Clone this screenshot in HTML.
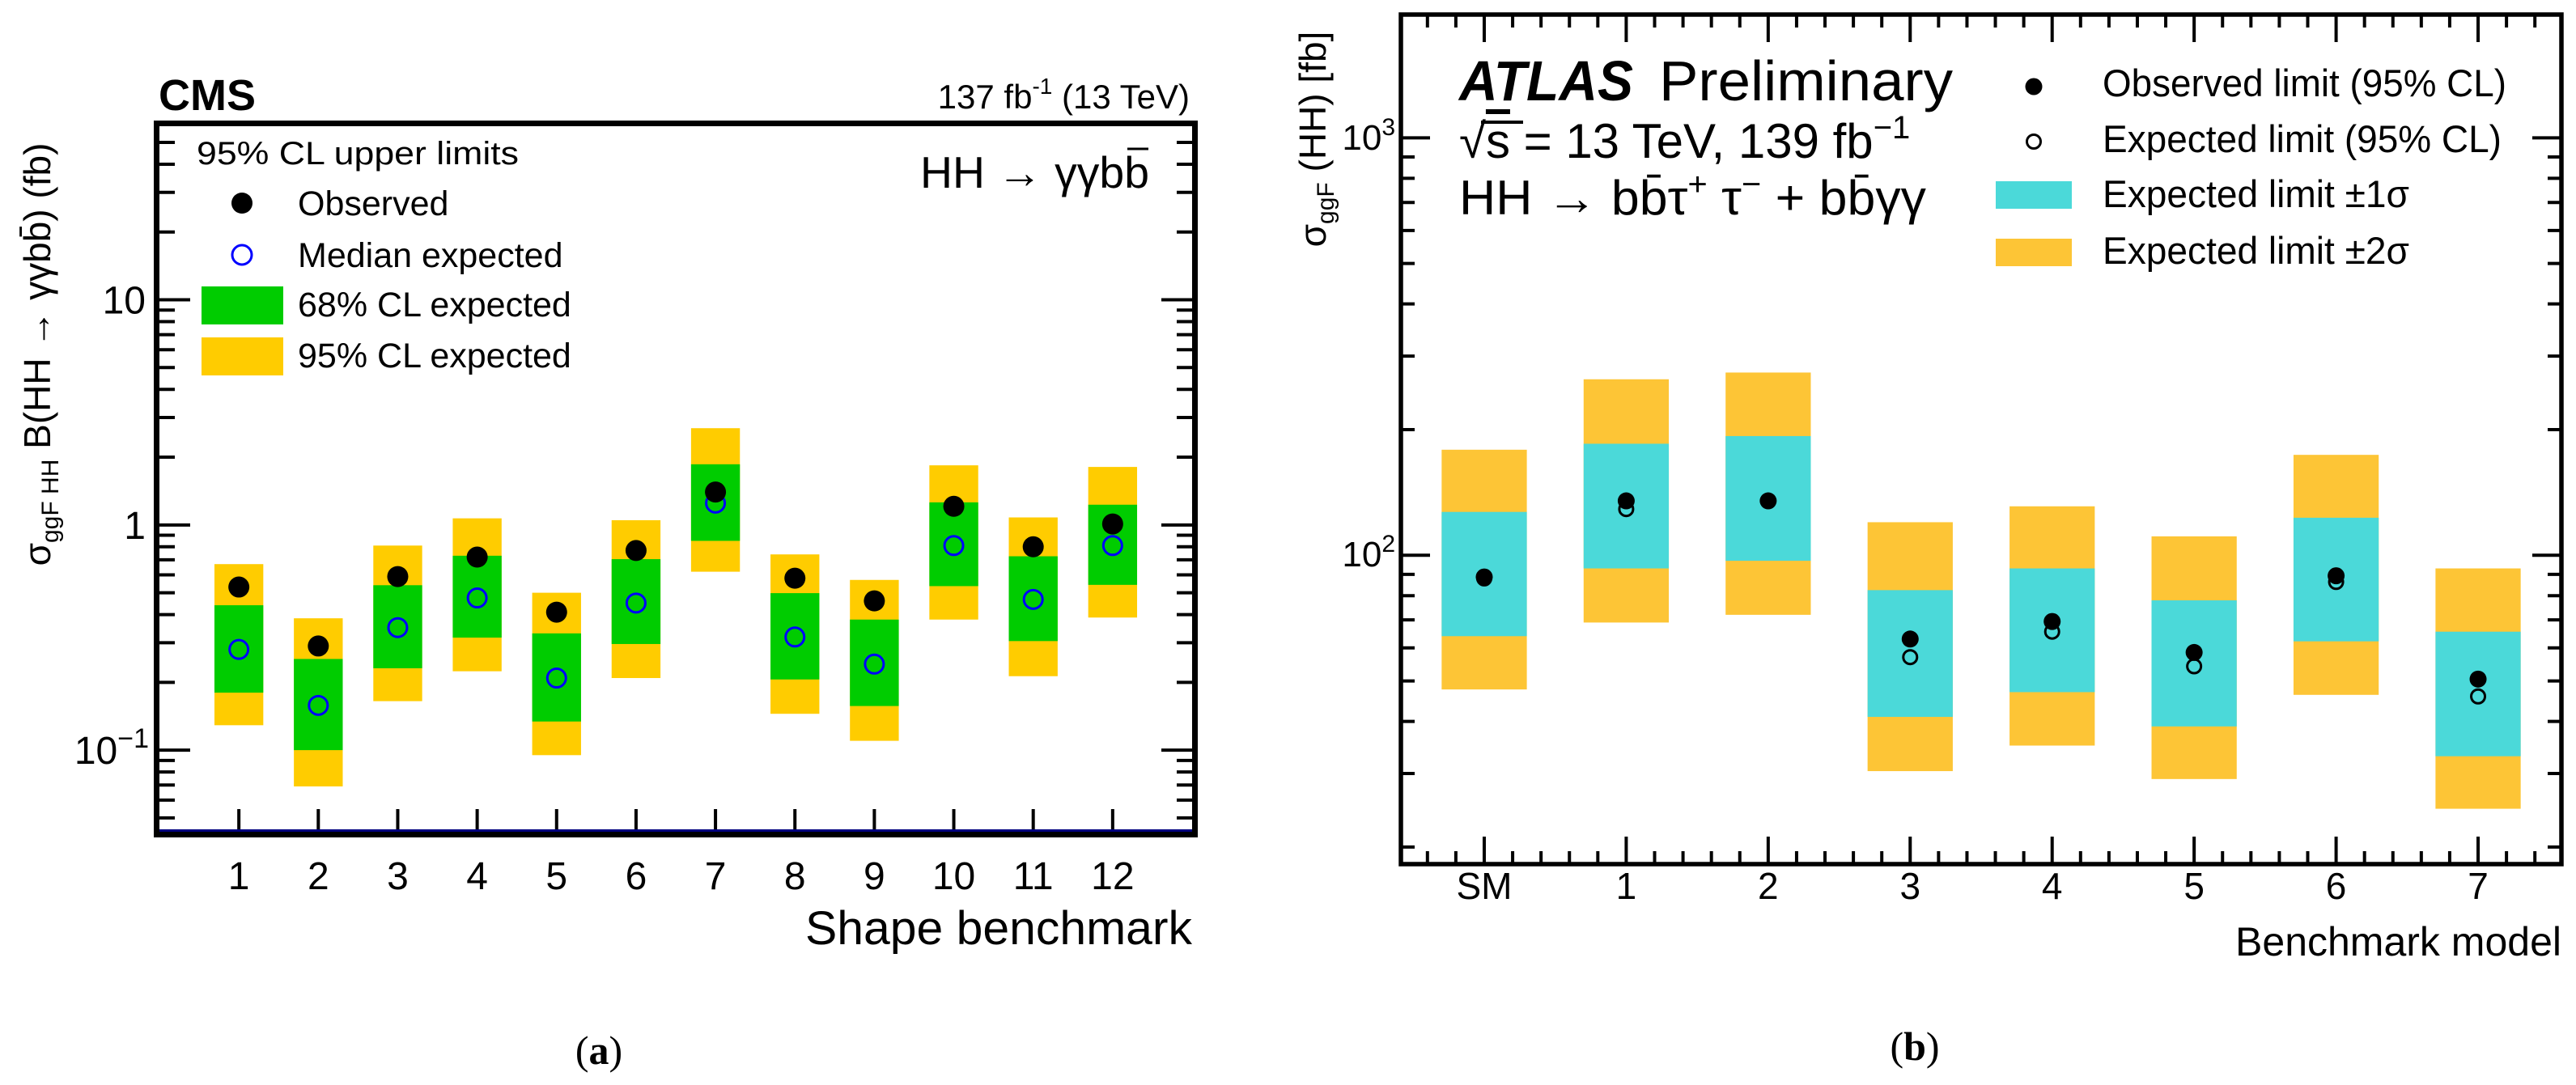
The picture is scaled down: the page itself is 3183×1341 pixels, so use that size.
<!DOCTYPE html>
<html><head><meta charset="utf-8"><title>HH limits</title>
<style>
html,body{margin:0;padding:0;background:#fff;}
svg{display:block;font-family:"Liberation Sans",sans-serif;}
</style></head>
<body>
<svg id="fig" width="3183" height="1341" viewBox="0 0 3183 1341" xmlns="http://www.w3.org/2000/svg">
<rect width="3183" height="1341" fill="#fff"/>
<g id="cms"></g>
<g id="atlas"></g>
</svg>
<script>
// ---------- CMS panel data ----------
const cmsCategories = ["1","2","3","4","5","6","7","8","9","10","11","12"];
const cmsObserved = [0.53,0.29,0.59,0.72,0.41,0.77,1.40,0.58,0.46,1.21,0.80,1.01];
const cmsExpected = [0.28,0.158,0.35,0.474,0.209,0.45,1.25,0.318,0.241,0.81,0.467,0.81];
const cms1sLow  = [0.18,0.10,0.231,0.316,0.134,0.296,0.85,0.206,0.157,0.535,0.305,0.542];
const cms1sHigh = [0.44,0.254,0.54,0.73,0.33,0.705,1.86,0.498,0.38,1.26,0.726,1.23];
const cms2sLow  = [0.129,0.069,0.165,0.224,0.095,0.209,0.62,0.145,0.110,0.38,0.213,0.388];
const cms2sHigh = [0.67,0.385,0.81,1.07,0.50,1.05,2.69,0.74,0.57,1.84,1.08,1.81];
const cmsYTicks = [0.1,1,10];

// ---------- ATLAS panel data ----------
const atlasCategories = ["SM","1","2","3","4","5","6","7"];
const atlasObserved = [88.7,135,135,63,69.4,58.5,89.3,50.5];
const atlasExpected = [88,129,135,57,65.6,54.2,86.3,45.9];
const atlas1sLow  = [64,93,97,41,47,38.9,62.2,33];
const atlas1sHigh = [127,185,193,82.5,93,78,123,65.6];
const atlas2sLow  = [47.7,69,72,30.4,35,29.1,46.3,24.7];
const atlas2sHigh = [179,264,274,120,131,111,174,93];
const atlasYTicks = [100,1000];

const NS = "http://www.w3.org/2000/svg";
function mk(parent, tag, attrs, text){
  const e = document.createElementNS(NS, tag);
  for (const k in attrs) e.setAttribute(k, attrs[k]);
  if (text !== undefined) e.textContent = text;
  parent.appendChild(e);
  return e;
}

// ================= CMS =================
(function(){
  const g = document.getElementById('cms');
  const L=197, R=1473, T=156, B=1028;
  const yMin=Math.log10(0.0434), yMax=Math.log10(59);
  const xs = v => L + (v/13)*(R-L);
  const ys = v => B - (Math.log10(v)-yMin)/(yMax-yMin)*(B-T);
  const bw = 0.615*(R-L)/13;

  cmsCategories.forEach((c,i)=>{
    const x = xs(i+1);
    let r = mk(g,'rect',{x:x-bw/2,y:ys(cms2sHigh[i]),width:bw,height:ys(cms2sLow[i])-ys(cms2sHigh[i]),fill:'#ffcc00'});
    
    
    r = mk(g,'rect',{x:x-bw/2,y:ys(cms1sHigh[i]),width:bw,height:ys(cms1sLow[i])-ys(cms1sHigh[i]),fill:'#00cc00'});
    
    
  });
  cmsCategories.forEach((c,i)=>{
    const x = xs(i+1);
    let p = mk(g,'circle',{cx:x,cy:ys(cmsExpected[i]),r:11.5,fill:'none',stroke:'#0000ff','stroke-width':3});
    
    
    p = mk(g,'circle',{cx:x,cy:ys(cmsObserved[i]),r:13,fill:'#000'});
    
    
  });

  const tk = mk(g,'g',{stroke:'#000','stroke-width':4});
  
  
  for (let e=-2;e<=1;e++){
    for (let m=1;m<=9;m++){
      const v=m*Math.pow(10,e);
      if (Math.log10(v)<yMin || Math.log10(v)>yMax) continue;
      const len = m===1?38:19;
      const y=ys(v);
      mk(tk,'line',{x1:L,x2:L+len,y1:y,y2:y});
      mk(tk,'line',{x1:R,x2:R-len,y1:y,y2:y});
    }
  }
  const xt = mk(g,'g',{stroke:'#000','stroke-width':4});
  
  
  cmsCategories.forEach((c,i)=>{ mk(xt,'line',{x1:xs(i+1),x2:xs(i+1),y1:B,y2:B-28}); });

  mk(g,'line',{x1:L,x2:R,y1:B-1,y2:B-1,stroke:'#000080','stroke-width':4});
  const fr = mk(g,'rect',{x:193.5,y:152.5,width:1283,height:879,fill:'none',stroke:'#000','stroke-width':7});
  
  

  cmsCategories.forEach((c,i)=>{
    const t = mk(g,'text',{x:xs(i+1),y:1099,'font-size':48,'text-anchor':'middle'},c);
    
    
  });
  cmsYTicks.forEach((v,i)=>{
    const y=ys(v);
    const t = mk(g,'text',{x:180,y:y+17,'font-size':48,'text-anchor':'end'});
    
    
    if (v===0.1){ t.setAttribute('x',184); t.innerHTML='10<tspan font-size="34" dy="-20">−1</tspan>'; }
    else t.textContent = v===1?'1':'10';
  });

  const add=(attrs,txt,name,html)=>{const t=mk(g,'text',attrs); if(html) t.innerHTML=txt; else t.textContent=txt;   return t;};
  add({x:196,y:136,'font-size':54,'font-weight':'bold'},'CMS','cms-label');
  add({x:1470,y:134,'font-size':42,'text-anchor':'end'},'137 fb<tspan font-size="28" dy="-18">-1</tspan><tspan dy="18"> (13 TeV)</tspan>','lumi-label',true);
  add({x:1137,y:232,'font-size':55,textLength:283,lengthAdjust:'spacingAndGlyphs'},'HH → γγbb','process-label');
  mk(g,'line',{x1:1393,x2:1419,y1:184,y2:184,stroke:'#000','stroke-width':3});
  add({x:995,y:1167,'font-size':58,textLength:478,lengthAdjust:'spacingAndGlyphs'},'Shape benchmark','x-axis-title');
  add({transform:'translate(62,438) rotate(-90)','font-size':46,'text-anchor':'middle'},'σ<tspan font-size="30" dy="10">ggF HH</tspan><tspan dy="-10"> B(HH → γγbb̄) (fb)</tspan>','y-axis-title',true);

  add({x:243,y:203,'font-size':40,textLength:398,lengthAdjust:'spacingAndGlyphs'},'95% CL upper limits','legend-title');
  const lg=mk(g,'g',{});
  
  
  mk(lg,'circle',{cx:299,cy:251,r:13,fill:'#000'});
  mk(lg,'circle',{cx:299,cy:315,r:12,fill:'none',stroke:'#0000ff','stroke-width':3});
  mk(lg,'rect',{x:249,y:354,width:101,height:47,fill:'#00cc00'});
  mk(lg,'rect',{x:249,y:417,width:101,height:47,fill:'#ffcc00'});
  add({x:368,y:266,'font-size':43},'Observed','legend-observed');
  add({x:368,y:330,'font-size':43},'Median expected','legend-expected');
  add({x:368,y:391,'font-size':43},'68% CL expected','legend-68');
  add({x:368,y:454,'font-size':43},'95% CL expected','legend-95');
  add({x:740,y:1315,'font-size':50,'font-family':'Liberation Serif, serif','text-anchor':'middle'},'(<tspan font-weight="bold">a</tspan>)','caption-a',true);
})();

// ================= ATLAS =================
(function(){
  const g = document.getElementById('atlas');
  const L=1731, R=3165, T=18, B=1068;
  const xMin=-0.587, xMax=7.587;
  const yMin=Math.log10(18.2), yMax=Math.log10(1974);
  const xs = v => L + (v-xMin)/(xMax-xMin)*(R-L);
  const ys = v => B - (Math.log10(v)-yMin)/(yMax-yMin)*(B-T);
  const bw = 0.6*(R-L)/(xMax-xMin);

  atlasCategories.forEach((c,i)=>{
    const x=xs(i);
    let r = mk(g,'rect',{x:x-bw/2,y:ys(atlas2sHigh[i]),width:bw,height:ys(atlas2sLow[i])-ys(atlas2sHigh[i]),fill:'#fdc536'});
    
    
    r = mk(g,'rect',{x:x-bw/2,y:ys(atlas1sHigh[i]),width:bw,height:ys(atlas1sLow[i])-ys(atlas1sHigh[i]),fill:'#4bd9d9'});
    
    
  });
  atlasCategories.forEach((c,i)=>{
    const x=xs(i);
    let p = mk(g,'circle',{cx:x,cy:ys(atlasExpected[i]),r:8.5,fill:'none',stroke:'#000','stroke-width':3});
    
    
    p = mk(g,'circle',{cx:x,cy:ys(atlasObserved[i]),r:10.5,fill:'#000'});
    
    
  });

  const tk = mk(g,'g',{stroke:'#000','stroke-width':4});
  
  
  for (let e=1;e<=3;e++){
    for (let m=1;m<=9;m++){
      const v=m*Math.pow(10,e);
      if (Math.log10(v)<yMin || Math.log10(v)>yMax) continue;
      const len = m===1?36:17;
      const y=ys(v);
      mk(tk,'line',{x1:L,x2:L+len,y1:y,y2:y});
      mk(tk,'line',{x1:R,x2:R-len,y1:y,y2:y});
    }
  }
  for (let k=-2;k<=37;k++){
    const v=k*0.2;
    if (v<xMin || v>xMax) continue;
    const major = (k%5===0);
    const len = major?34:16;
    const x=xs(v);
    mk(tk,'line',{x1:x,x2:x,y1:B,y2:B-len});
    mk(tk,'line',{x1:x,x2:x,y1:T,y2:T+len});
  }
  const fr = mk(g,'rect',{x:1731,y:18,width:1434,height:1050,fill:'none',stroke:'#000','stroke-width':5.5});
  
  

  const add=(attrs,txt,name,html)=>{const t=mk(g,'text',attrs); if(html) t.innerHTML=txt; else t.textContent=txt;   return t;};
  atlasCategories.forEach((c,i)=>{
    add({x:xs(i),y:1111,'font-size':46,'text-anchor':'middle'},c,'x-tick-label-'+c);
  });
  add({x:1724,y:700,'font-size':44,'text-anchor':'end'},'10<tspan font-size="30" dy="-18">2</tspan>','y-tick-label-100',true);
  add({x:1724,y:185,'font-size':44,'text-anchor':'end'},'10<tspan font-size="30" dy="-18">3</tspan>','y-tick-label-1000',true);
  add({x:3165,y:1181,'font-size':50,'text-anchor':'end'},'Benchmark model','x-axis-title');
  add({transform:'translate(1638,172) rotate(-90)','font-size':46,'text-anchor':'middle'},'σ<tspan font-size="30" dy="10">ggF</tspan><tspan dy="-10"> (HH) [fb]</tspan>','y-axis-title',true);

  add({x:1803,y:124,'font-size':70,'font-weight':'bold','font-style':'italic',textLength:215,lengthAdjust:'spacingAndGlyphs'},'ATLAS','atlas-label');
  add({x:2050,y:124,'font-size':70,textLength:363,lengthAdjust:'spacingAndGlyphs'},'Preliminary','preliminary-label');
  add({x:1803,y:195,'font-size':60},'√<tspan text-decoration="overline">s</tspan> = 13 TeV, 139 fb<tspan font-size="40" dy="-24">−1</tspan>','energy-lumi-label',true);
  mk(g,'line',{x1:1830,x2:1882,y1:151,y2:151,stroke:'#000','stroke-width':4});
  add({x:1803,y:265,'font-size':60,textLength:577,lengthAdjust:'spacingAndGlyphs'},'HH → bb̄τ<tspan font-size="40" dy="-24">+</tspan><tspan dy="24"> τ</tspan><tspan font-size="40" dy="-24">−</tspan><tspan dy="24"> + bb̄γγ</tspan>','process-label',true);

  const lg=mk(g,'g',{});
  
  
  mk(lg,'circle',{cx:2513,cy:107,r:10.5,fill:'#000'});
  mk(lg,'circle',{cx:2513,cy:175,r:8.5,fill:'none',stroke:'#000','stroke-width':3});
  mk(lg,'rect',{x:2466,y:224,width:94,height:34,fill:'#4bd9d9'});
  mk(lg,'rect',{x:2466,y:295,width:94,height:34,fill:'#fdc536'});
  add({x:2598,y:119,'font-size':47,textLength:499,lengthAdjust:'spacingAndGlyphs'},'Observed limit (95% CL)','legend-observed');
  add({x:2598,y:188,'font-size':47,textLength:493,lengthAdjust:'spacingAndGlyphs'},'Expected limit (95% CL)','legend-expected');
  add({x:2598,y:256,'font-size':47,textLength:379,lengthAdjust:'spacingAndGlyphs'},'Expected limit ±1σ','legend-1sigma');
  add({x:2598,y:326,'font-size':47,textLength:379,lengthAdjust:'spacingAndGlyphs'},'Expected limit ±2σ','legend-2sigma');
  add({x:2366,y:1310,'font-size':50,'font-family':'Liberation Serif, serif','text-anchor':'middle'},'(<tspan font-weight="bold">b</tspan>)','caption-b',true);
})();
</script>
</body></html>
